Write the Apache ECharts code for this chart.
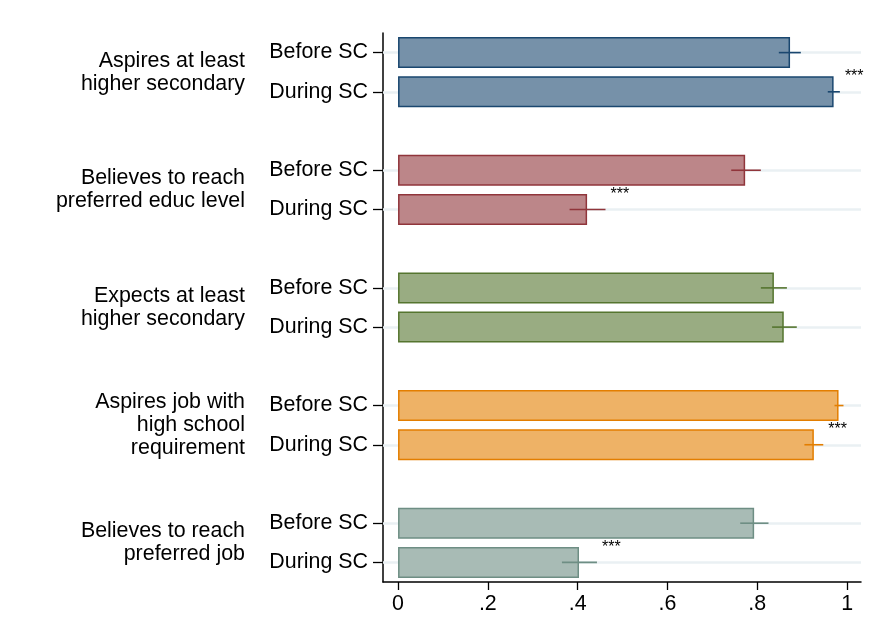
<!DOCTYPE html>
<html>
<head>
<meta charset="utf-8">
<script src="https://cdn.jsdelivr.net/npm/echarts@6/dist/echarts.min.js"></script>
<style>
  html, body { margin: 0; padding: 0; background: #ffffff; }
  #chart { width: 875px; height: 643px; }
</style>
</head>
<body>
<div id="chart"></div>
<script>
// Outcome groups, each shown before and during SC
const outcomes = [
  'Aspires at least\nhigher secondary',
  'Believes to reach\npreferred educ level',
  'Expects at least\nhigher secondary',
  'Aspires job with\nhigh school\nrequirement',
  'Believes to reach\npreferred job'
];
const periods = ['Before SC', 'During SC'];

// Shares and 95% confidence bounds
const beforeMean = [0.873, 0.773, 0.837, 0.981, 0.793];
const beforeLow  = [0.848, 0.742, 0.808, 0.972, 0.762];
const beforeHigh = [0.897, 0.808, 0.866, 0.992, 0.825];
const duringMean = [0.970, 0.421, 0.859, 0.926, 0.403];
const duringLow  = [0.957, 0.382, 0.833, 0.905, 0.365];
const duringHigh = [0.984, 0.462, 0.888, 0.947, 0.443];
const duringStars = ['***', '***', '', '***', '***'];

const xTicks = [0, 0.2, 0.4, 0.6, 0.8, 1];
const xTickLabels = ['0', '.2', '.4', '.6', '.8', '1'];

// Palette: outline colour per group, fill is that colour blended 60% over white
const lineColors = ['#1a476f', '#90353b', '#55752f', '#e37e00', '#6e8e84'];
function tintOf(hex, a) {
  const n = parseInt(hex.slice(1), 16);
  const mix = function (c) { return Math.round(c * a + 255 * (1 - a)); };
  return 'rgb(' + mix(n >> 16) + ',' + mix((n >> 8) & 255) + ',' + mix(n & 255) + ')';
}

// Lay groups out on a category axis with an empty slot between groups
const slotLabels = [];
const barData = [];
const ciRows = [];
const barSlots = [];
outcomes.forEach(function (name, g) {
  if (g > 0) { slotLabels.push(''); barData.push('-'); }
  const rows = [
    { mean: beforeMean[g], lo: beforeLow[g], hi: beforeHigh[g], stars: '' },
    { mean: duringMean[g], lo: duringLow[g], hi: duringHigh[g], stars: duringStars[g] }
  ];
  rows.forEach(function (r, p) {
    const slot = slotLabels.length;
    slotLabels.push(periods[p]);
    barSlots.push(slot);
    barData.push({
      value: r.mean,
      itemStyle: { color: tintOf(lineColors[g], 0.6), borderColor: lineColors[g], borderWidth: 1.5 }
    });
    ciRows.push({ value: [r.lo, r.hi, slot], group: g, stars: r.stars });
  });
});
const slotKeys = slotLabels.map(function (_, i) { return 's' + i; });

// Half-slot grid for the group titles, centred between each pair of bars
const halfKeys = [];
const halfLabels = [];
for (let k = 0; k <= slotLabels.length * 2; k++) { halfKeys.push('h' + k); halfLabels.push(''); }
outcomes.forEach(function (name, g) { halfLabels[6 * g + 2] = name; });

const chart = echarts.init(document.getElementById('chart'), null, { renderer: 'canvas' });
const textFont = 'Liberation Sans, Arial, Helvetica, sans-serif';
const labelSize = 21.4;

chart.setOption({
  animation: false,
  backgroundColor: '#ffffff',
  grid: { left: 383, right: 14, top: 33, bottom: 61, containLabel: false },
  xAxis: {
    type: 'value',
    min: -0.0335,
    max: 1.031,
    splitLine: { show: false },
    axisLine: { show: true, onZero: false, lineStyle: { color: '#000000', width: 1.5 } },
    axisTick: { show: true, length: 8, customValues: xTicks, lineStyle: { color: '#000000', width: 1.3 } },
    axisLabel: {
      customValues: xTicks,
      margin: 12,
      color: '#000000',
      fontSize: labelSize,
      fontFamily: textFont,
      formatter: function (v) {
        const i = xTicks.findIndex(function (t) { return Math.abs(t - v) < 1e-9; });
        return i >= 0 ? xTickLabels[i] : '';
      }
    }
  },
  yAxis: [
    {
      type: 'category',
      inverse: true,
      data: slotKeys,
      axisLine: { show: true, onZero: false, lineStyle: { color: '#000000', width: 1.5 } },
      axisTick: {
        show: true,
        alignWithLabel: true,
        length: 10,
        interval: function (i) { return slotLabels[i] !== ''; },
        lineStyle: { color: '#000000', width: 1.3 }
      },
      axisLabel: {
        interval: 0,
        margin: 15,
        color: '#000000',
        fontSize: labelSize,
        fontFamily: textFont,
        padding: [3, 0, 0, 0],
        formatter: function (v, i) { return slotLabels[i]; }
      },
      splitLine: { show: false }
    },
    {
      type: 'category',
      inverse: true,
      boundaryGap: false,
      data: halfKeys,
      position: 'left',
      axisLine: { show: false },
      axisTick: { show: false },
      axisLabel: {
        interval: 0,
        margin: 138,
        align: 'right',
        color: '#000000',
        fontSize: labelSize,
        lineHeight: 23,
        fontFamily: textFont,
        formatter: function (v, i) { return halfLabels[i]; }
      },
      splitLine: { show: false }
    }
  ],
  series: [
    {
      // light guide line through every bar, kept underneath the bars
      type: 'line',
      yAxisIndex: 0,
      data: [],
      silent: true,
      z: 1,
      markLine: {
        silent: true,
        symbol: 'none',
        z: 1,
        label: { show: false },
        lineStyle: { color: '#eaf0f3', width: 2.5, type: 'solid' },
        data: barSlots.map(function (s) { return { yAxis: s }; })
      }
    },
    {
      type: 'bar',
      yAxisIndex: 0,
      data: barData,
      barWidth: 31,
      z: 10,
      silent: true
    },
    {
      type: 'custom',
      yAxisIndex: 0,
      z: 12,
      silent: true,
      data: ciRows,
      encode: { x: [0, 1], y: 2 },
      renderItem: function (params, api) {
        const row = ciRows[params.dataIndex];
        const slot = api.value(2);
        const p0 = api.coord([api.value(0), slot]);
        const p1 = api.coord([api.value(1), slot]);
        const children = [{
          type: 'line',
          shape: { x1: p0[0], y1: p0[1], x2: p1[0], y2: p1[1] },
          style: { stroke: lineColors[row.group], lineWidth: 1.6 }
        }];
        if (row.stars) {
          children.push({
            type: 'text',
            style: {
              text: row.stars,
              x: p1[0] + 5,
              y: p1[1] - 15,
              align: 'left',
              verticalAlign: 'middle',
              fill: '#000000',
              font: '16px ' + textFont
            }
          });
        }
        return { type: 'group', children: children };
      }
    }
  ]
});
</script>
</body>
</html>
